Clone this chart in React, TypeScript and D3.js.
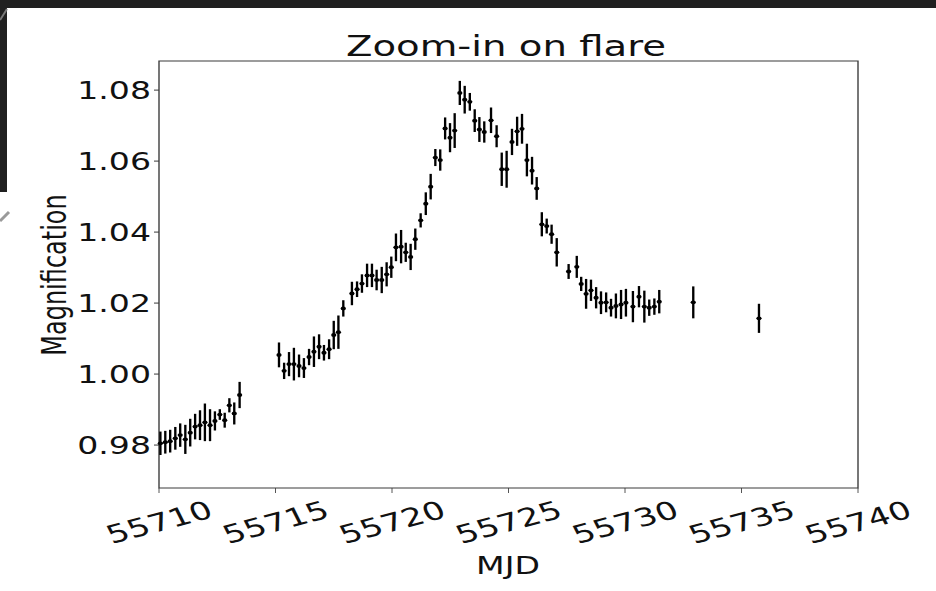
import React from 'react';
import * as d3 from 'd3';

// Light curve around the flare: epoch (MJD), magnification and 1-sigma error
const mjd = [
  55710.06, 55710.27, 55710.48, 55710.70, 55710.91, 55711.13, 55711.34, 55711.55, 55711.76, 55711.97,
  55712.19, 55712.40, 55712.61, 55712.82, 55713.02, 55713.23, 55713.46,
  55715.15, 55715.37, 55715.58, 55715.79, 55716.01, 55716.22, 55716.44, 55716.65, 55716.87, 55717.08,
  55717.30, 55717.50, 55717.70, 55717.91, 55718.28, 55718.50, 55718.71, 55718.93, 55719.14, 55719.34,
  55719.56, 55719.77, 55719.97, 55720.17, 55720.39, 55720.59, 55720.80, 55721.00, 55721.23, 55721.45,
  55721.66, 55721.86, 55722.07, 55722.28, 55722.49, 55722.69, 55722.91, 55723.12, 55723.34, 55723.55,
  55723.75, 55723.96, 55724.25, 55724.49, 55724.71, 55724.92, 55725.15, 55725.37, 55725.58, 55725.79,
  55726.01, 55726.21, 55726.43, 55726.64, 55726.85, 55727.07, 55727.58, 55727.93, 55728.12, 55728.33,
  55728.54, 55728.76, 55728.97, 55729.19, 55729.40, 55729.61, 55729.83, 55730.04, 55730.34, 55730.60,
  55730.83, 55731.04, 55731.26, 55731.47, 55732.93, 55735.75,
];

const magnification = [
  0.9805, 0.9808, 0.9811, 0.9819, 0.9828, 0.9816, 0.9835, 0.9852, 0.9856, 0.9864,
  0.9856, 0.9868, 0.9886, 0.9870, 0.9912, 0.9889, 0.9941,
  1.0054, 1.0009, 1.0028, 1.0028, 1.0023, 1.0017, 1.0048, 1.0063, 1.0077, 1.0060,
  1.0070, 1.0110, 1.0118, 1.0185, 1.0227, 1.0239, 1.0255, 1.0278, 1.0278, 1.0265,
  1.0265, 1.0281, 1.0301, 1.0357, 1.0359, 1.0343, 1.0330, 1.0380, 1.0433, 1.0480,
  1.0528, 1.0610, 1.0603, 1.0692, 1.0666, 1.0686, 1.0792, 1.0773, 1.0767, 1.0714,
  1.0689, 1.0682, 1.0715, 1.0670, 1.0577, 1.0577, 1.0654, 1.0684, 1.0691, 1.0603,
  1.0573, 1.0523, 1.0422, 1.0417, 1.0394, 1.0343, 1.0289, 1.0302, 1.0254, 1.0226,
  1.0236, 1.0215, 1.0201, 1.0202, 1.0187, 1.0192, 1.0196, 1.0201, 1.0190, 1.0218,
  1.0190, 1.0187, 1.0190, 1.0204, 1.0202, 1.0157,
];

const magnificationErr = [
  0.0033, 0.0032, 0.0032, 0.0032, 0.0033, 0.0041, 0.0039, 0.0036, 0.0042, 0.0053,
  0.0045, 0.0027, 0.0015, 0.0021, 0.0020, 0.0031, 0.0037,
  0.0035, 0.0023, 0.0034, 0.0046, 0.0032, 0.0028, 0.0023, 0.0043, 0.0035, 0.0022,
  0.0028, 0.0040, 0.0047, 0.0023, 0.0033, 0.0022, 0.0026, 0.0033, 0.0033, 0.0029,
  0.0037, 0.0034, 0.0030, 0.0039, 0.0047, 0.0027, 0.0037, 0.0030, 0.0020, 0.0032,
  0.0036, 0.0024, 0.0030, 0.0031, 0.0041, 0.0049, 0.0034, 0.0039, 0.0025, 0.0032,
  0.0035, 0.0030, 0.0036, 0.0031, 0.0047, 0.0052, 0.0037, 0.0041, 0.0042, 0.0046,
  0.0039, 0.0032, 0.0034, 0.0021, 0.0027, 0.0040, 0.0021, 0.0031, 0.0020, 0.0042,
  0.0030, 0.0030, 0.0032, 0.0028, 0.0025, 0.0035, 0.0041, 0.0039, 0.0044, 0.0030,
  0.0045, 0.0023, 0.0023, 0.0033, 0.0045, 0.0041,
];

const xTicks = [55710, 55715, 55720, 55725, 55730, 55735, 55740];
const yTicks = [0.98, 1.0, 1.02, 1.04, 1.06, 1.08];
const titleText = 'Zoom-in on flare';
const xLabelText = 'MJD';
const yLabelText = 'Magnification';

const W = 936;
const H = 591;
// The figure canvas is stretched horizontally; everything in the plot group
// is laid out in unstretched units and widened by SX.
const SX = 1.38;
const box = { left: 159, right: 858, top: 61, bottom: 488 };
const FONT = "'DejaVu Sans', 'Liberation Sans', sans-serif";

export default function App() {
  const x = d3.scaleLinear().domain([55710, 55740]).range([box.left / SX, box.right / SX]);
  const y = d3.scaleLinear().domain([0.9679, 1.0882]).range([box.bottom, box.top]);
  const fmt = d3.format('.2f');
  const pts = mjd.map((t, i) => ({ t, v: magnification[i], e: magnificationErr[i] }));
  const tickLen = 5 / SX;

  return (
    <svg
      width={W}
      height={H}
      style={{ position: 'absolute', left: 0, top: 0, display: 'block' }}
      fontFamily={FONT}
    >
      <rect x={0} y={0} width={W} height={H} fill="#ffffff" />
      <g transform={`scale(${SX},1)`}>
        {/* axes frame */}
        <rect
          x={x(55710)}
          y={box.top}
          width={x(55740) - x(55710)}
          height={box.bottom - box.top}
          fill="none"
          stroke="#3a3a3a"
          strokeWidth={1}
        />
        {/* y ticks */}
        {yTicks.map((v) => (
          <g key={`y${v}`}>
            <line x1={x(55710) - tickLen} x2={x(55710)} y1={y(v)} y2={y(v)} stroke="#3a3a3a" strokeWidth={1} />
            <text
              x={151 / SX}
              y={y(v)}
              dy="0.36em"
              textAnchor="end"
              fontSize={24}
              fill="#111"
            >
              {fmt(v)}
            </text>
          </g>
        ))}
        {/* x ticks */}
        {xTicks.map((t) => (
          <g key={`x${t}`}>
            <line x1={x(t)} x2={x(t)} y1={box.bottom} y2={box.bottom + 5} stroke="#3a3a3a" strokeWidth={1 / SX} />
            <text
              transform={`translate(${x(t)},522) rotate(-20)`}
              textAnchor="middle"
              dy="0.36em"
              fontSize={25}
              fill="#111"
            >
              {t}
            </text>
          </g>
        ))}
        {/* error bars and points */}
        {pts.map((p, i) => (
          <g key={`p${i}`}>
            <line
              x1={x(p.t)}
              x2={x(p.t)}
              y1={y(p.v - p.e)}
              y2={y(p.v + p.e)}
              stroke="#000"
              strokeWidth={1.7}
            />
            <circle cx={x(p.t)} cy={y(p.v)} r={1.9} fill="#000" />
          </g>
        ))}
        {/* labels */}
        <text x={506 / SX} y={56} textAnchor="middle" fontSize={28} fill="#111">
          {titleText}
        </text>
        <text x={508 / SX} y={574} textAnchor="middle" fontSize={24} fill="#111">
          {xLabelText}
        </text>
        <text
          transform={`translate(${66 / SX},275) rotate(-90)`}
          textAnchor="middle"
          fontSize={24}
          fill="#111"
        >
          {yLabelText}
        </text>
      </g>
      {/* dark slide frame around the top-left corner */}
      <rect x={0} y={0} width={W} height={8} fill="#202020" />
      <rect x={0} y={0} width={7} height={192} fill="#202020" />
      <line x1={0} y1={20} x2={7} y2={9} stroke="#7a7a7a" strokeWidth={2} />
      <line x1={0} y1={221} x2={9} y2={212} stroke="#9a9a9a" strokeWidth={3} />
    </svg>
  );
}
